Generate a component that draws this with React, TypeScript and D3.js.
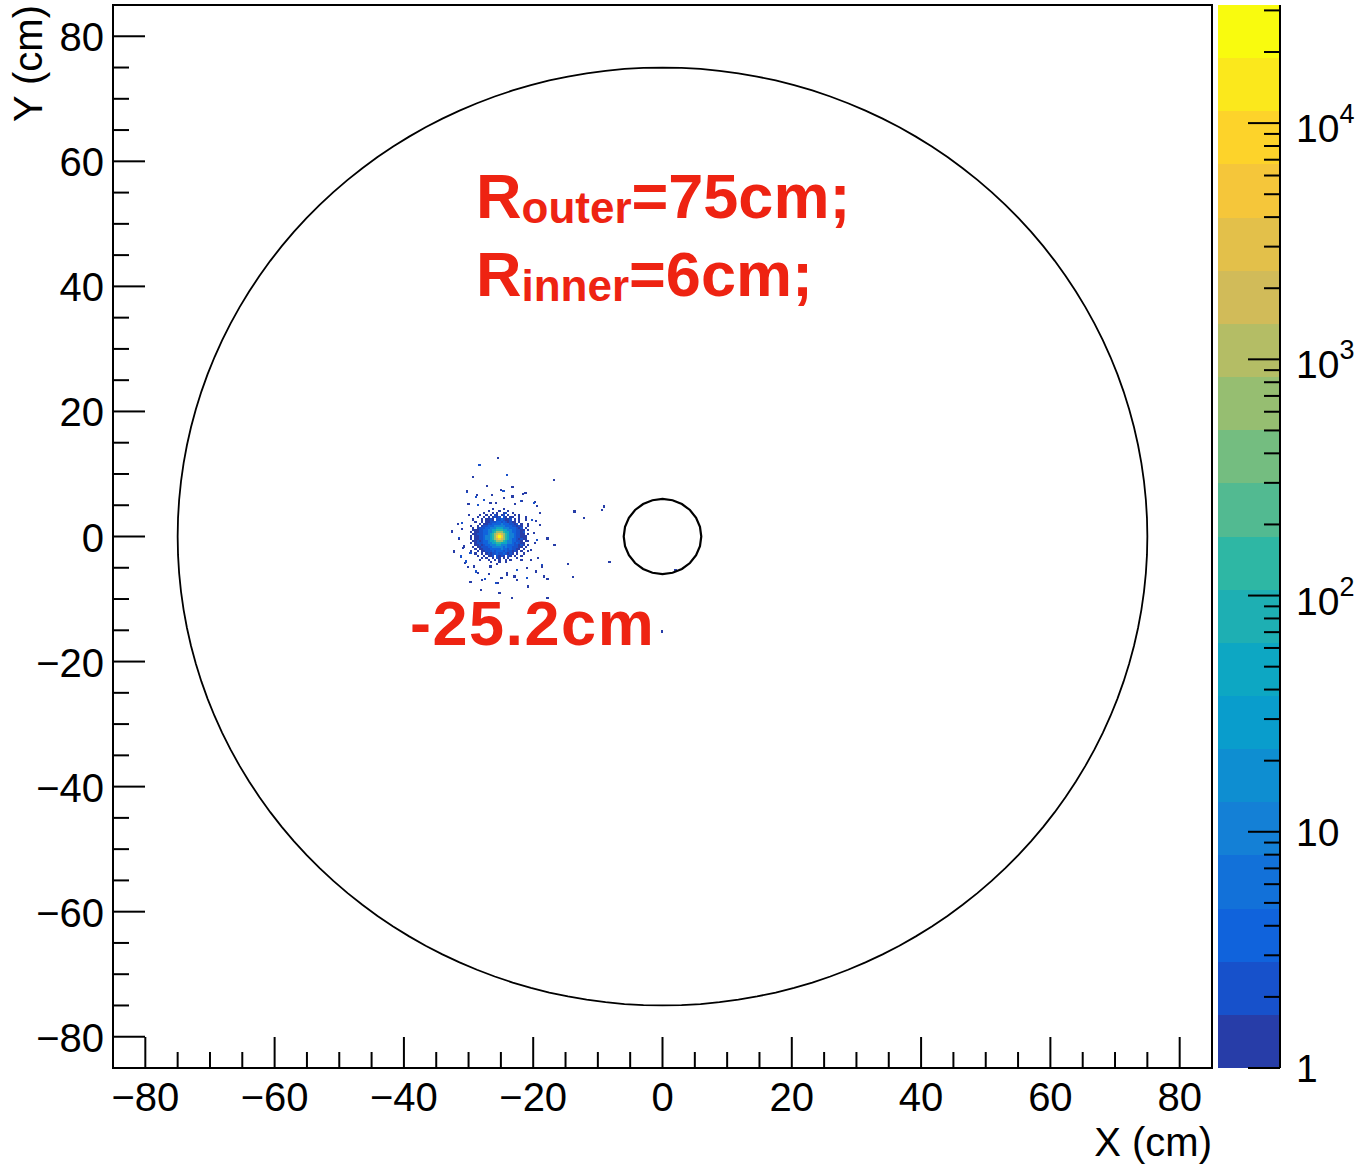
import React from 'react';
import * as d3 from 'd3';

const W = 1359;
const H = 1169;
const FONT = '"Liberation Sans", Arial, Helvetica, sans-serif';
const RED = '#ee2312';

// frame in pixels
const frame = { left: 113, right: 1212, top: 5, bottom: 1068 };
const bar = { left: 1218, right: 1280 };

// axes
const xDomain = [-85, 85];
const yDomain = [-85, 85];
const xMajorTicks = [-80, -60, -40, -20, 0, 20, 40, 60, 80];
const yMajorTicks = [-80, -60, -40, -20, 0, 20, 40, 60, 80];
const minorStep = 5;

// z (colour) axis, log scale, 20 contours
const zMin = 1;
const zMax = 31623;
const nContours = 20;
const zTickValues = [1, 10, 100, 1000, 10000];
const zTickBase = ['1', '10', '10', '10', '10'];
const zTickExp = ['', '', '2', '3', '4'];

// detector geometry (cm)
const outerRadius = 75;
const innerRadius = 6;

// histogram binning (500 bins over 170 cm)
const binWidth = 0.34;
const spotCenter = [-25.2, 0];

// core of the beam spot, one char per bin: '.' empty, '1'..'A' -> levelCounts
const levelChars = '123456789A';
const levelCounts = [1, 2, 4, 12, 40, 150, 500, 1500, 5000, 25000];
const coreRows = [
  '..........1....1...........',
  '........1....1...1.........',
  '......1...1.1..12..1.......',
  '....1..1.1.21.12.1..1.1....',
  '...1..1.1.1212.21.11..1..1.',
  '.1...1.1121.2232112.1.1..1.',
  '..1..1.11222332321211.1....',
  '....1.1122333343332212.1..1',
  '1..1.1223334444433322121..1',
  '.1.122233444555444333212.1.',
  '.111223344556665544332211.1',
  '1.11223344567776554332212..',
  '.112223345678987654432211.1',
  '1.11223445679A976544322111.',
  '1.112234456789876543321211.',
  '.11212334556777654433221.11',
  '1.12223344556655544323211..',
  '..11212334445544433322121.1',
  '.1.112223344444343322211.1.',
  '..1.1122233333433232211.1..',
  '1..1.11222323332322121.1..1',
  '..1..1.1212232232121.1..1..',
  '...1..1.112.2121.21.1..1...',
  '.....1.1..1.21.1.1...1.....',
  '....1...1..1.1..1.1....1...',
  '.........1...1..1..........',
  '............1..............',
];

// scattered single hits around the spot: [x cm, y cm, counts]
const haloHits = [
  [-25.5, 12.5, 1], [-28.3, 11.5, 2], [-24.0, 9.8, 2], [-29.3, 9.5, 1], [-30.3, 7.2, 2],
  [-16.8, 9.1, 1], [-9.1, 4.8, 1], [-13.6, 4.0, 1], [-12.1, 2.9, 1], [-9.4, 4.3, 1],
  [-31.5, -0.2, 2], [-16.7, -1.3, 1], [-14.6, -4.4, 1], [-8.2, -4.1, 1], [-13.8, -6.5, 1],
  [-17.8, -6.8, 1], [-31.2, -3.2, 2], [-30.6, -4.3, 1], [-29.7, -7.3, 1], [-28.1, -8.5, 1],
  [-25.8, -7.4, 2], [-25.2, -9.1, 1], [-23.3, -9.9, 1], [-20.8, -8.0, 1], [-18.6, -4.5, 2],
  [-19.7, -1.1, 1], [-19.7, 5.5, 1], [-21.9, 5.7, 2], [-23.2, 7.9, 1], [-25.0, 7.5, 1],
  [-27.1, 8.1, 1], [-27.6, 5.9, 2], [-18.9, 3.8, 1], [-17.8, -0.2, 1], [-20.4, -3.7, 1],
  [-22.5, -5.3, 2], [-24.0, -5.8, 1], [-26.6, -4.8, 1], [-0.05, -15.2, 1], [-17.8, -9.8, 1],
  [2.0, -5.4, 1], [-9.0, 4.8, 1], [-31.0, 1.2, 1], [-30.8, -1.8, 1], [-31.6, 2.0, 1],
  [-30.0, 5.2, 1], [-28.8, 6.3, 2], [-26.4, 6.6, 1], [-24.5, 6.1, 1], [-22.8, 5.2, 1],
  [-20.2, 2.6, 2], [-19.9, 0.6, 1], [-20.3, -2.1, 1], [-21.0, -5.0, 1], [-22.9, -6.4, 1],
  [-26.9, -6.0, 1], [-28.9, -5.6, 2], [-30.1, -4.9, 1], [-32.2, -2.4, 1], [-19.3, -3.4, 1],
  [-21.6, 6.8, 1], [-25.8, 5.4, 1], [-32.5, 0.8, 1], [-18.9, 1.9, 1], [-27.9, -6.9, 1],
  [-24.9, -6.6, 1], [-19.4, 4.9, 1],
  [-30.3, 7.3, 1], [-28.7, 6.6, 1], [-24.6, 7.3, 2], [-23.2, 6.4, 1], [-21.7, 5.7, 1],
  [-19.9, 5.4, 2], [-19.6, 2.5, 1], [-17.8, -0.4, 1], [-19.4, -0.5, 2], [-18.6, -4.8, 1],
  [-19.6, -5.6, 1], [-20.9, -6.6, 2], [-22.5, -6.9, 1], [-25.5, -7.4, 1], [-27.4, -6.8, 2],
  [-29.2, -4.8, 1], [-30.4, -4.0, 2], [-31.5, -0.4, 1], [-31.0, 2.2, 2], [-29.9, 3.5, 1],
  [-28.6, 5.1, 2], [-26.6, 5.4, 1], [-21.2, 6.9, 1], [-18.3, -6.4, 1], [-30.7, -1.6, 1],
  [-29.7, -2.6, 2], [-24.0, -6.1, 1], [-28.6, -5.8, 1],
];

// ROOT kBird palette
const birdStops = [0.0, 0.125, 0.25, 0.375, 0.5, 0.625, 0.75, 0.875, 1.0];
const birdRed = [0.2082, 0.0592, 0.078, 0.0232, 0.1802, 0.5301, 0.8186, 0.9956, 0.9764];
const birdGreen = [0.1664, 0.3599, 0.5041, 0.6419, 0.7178, 0.7492, 0.7328, 0.7862, 0.9832];
const birdBlue = [0.5293, 0.8684, 0.8385, 0.7914, 0.6425, 0.4662, 0.3499, 0.1968, 0.0539];

const birdColor = (t: number) => {
  const s = d3.scaleLinear().domain(birdStops).clamp(true);
  const r = s.copy().range(birdRed)(t);
  const g = s.copy().range(birdGreen)(t);
  const b = s.copy().range(birdBlue)(t);
  return d3.rgb(r * 255, g * 255, b * 255).formatHex();
};

const lzMax = Math.log10(zMax);
const bandColor = (i: number) => birdColor(Math.floor((i + 0.99) * 255 / nContours) / 254);
const countColor = (v: number) => {
  const band = Math.min(nContours - 1, Math.floor(0.01 + (Math.log10(v) - Math.log10(zMin)) * nContours / lzMax));
  return bandColor(band);
};

export default function App() {
  const x = d3.scaleLinear().domain(xDomain).range([frame.left, frame.right]);
  const y = d3.scaleLinear().domain(yDomain).range([frame.bottom, frame.top]);
  const z = d3.scaleLog().domain([zMin, zMax]).range([frame.bottom, frame.top]);

  const xMinor = d3.range(xDomain[0], xDomain[1] + 0.01, minorStep).filter(v => !xMajorTicks.includes(v) && v > xDomain[0] && v < xDomain[1]);
  const yMinor = d3.range(yDomain[0], yDomain[1] + 0.01, minorStep).filter(v => !yMajorTicks.includes(v) && v > yDomain[0] && v < yDomain[1]);

  const zMinor: number[] = [];
  for (let d = 0; d <= 4; d++) {
    for (let k = 2; k <= 9; k++) {
      const v = k * Math.pow(10, d);
      if (v < zMax) zMinor.push(v);
    }
  }

  const circlePath = (r: number, n: number) =>
    d3.line<number>()
      .x(a => x(r * Math.cos(a)))
      .y(a => y(r * Math.sin(a)))(d3.range(n + 1).map(i => (i / n) * 2 * Math.PI)) + 'Z';

  // histogram cells
  const cells: { x0: number; y0: number; v: number }[] = [];
  const half = (coreRows.length - 1) / 2;
  coreRows.forEach((row, r) => {
    row.split('').forEach((ch, c) => {
      const li = levelChars.indexOf(ch);
      if (li < 0) return;
      cells.push({
        x0: spotCenter[0] + (c - half - 0.5) * binWidth,
        y0: spotCenter[1] + (half - r + 0.5) * binWidth,
        v: levelCounts[li],
      });
    });
  });
  haloHits.forEach(([hx, hy, v]) => {
    cells.push({ x0: hx - binWidth / 2, y0: hy + binWidth / 2, v });
  });

  const fmt = (v: number) => (v < 0 ? '\u2212' + Math.abs(v) : String(v));
  const bandEdges = d3.range(nContours + 1).map(i => Math.pow(10, (i * lzMax) / nContours));

  return (
    <div style={{ position: 'absolute', left: 0, top: 0 }}>
      <svg width={W} height={H} style={{ display: 'block', background: '#fff' }} fontFamily={FONT}>
        <rect width={W} height={H} fill="#fff" />

        {/* histogram */}
        <g shapeRendering="crispEdges">
          {cells.map((c, i) => (
            <rect
              key={i}
              x={x(c.x0)}
              y={y(c.y0)}
              width={x(c.x0 + binWidth) - x(c.x0)}
              height={y(c.y0 - binWidth) - y(c.y0)}
              fill={countColor(c.v)}
            />
          ))}
        </g>

        {/* detector outlines */}
        <path d={circlePath(outerRadius, 160)} fill="none" stroke="#000" strokeWidth={1.8} />
        <path d={circlePath(innerRadius, 24)} fill="none" stroke="#000" strokeWidth={2.2} />

        {/* frame */}
        <rect x={frame.left} y={frame.top} width={frame.right - frame.left} height={frame.bottom - frame.top}
          fill="none" stroke="#000" strokeWidth={2} />

        {/* x ticks */}
        <g stroke="#000" strokeWidth={2}>
          {xMajorTicks.map(v => <line key={'xM' + v} x1={x(v)} x2={x(v)} y1={frame.bottom} y2={frame.bottom - 31} />)}
          {xMinor.map(v => <line key={'xm' + v} x1={x(v)} x2={x(v)} y1={frame.bottom} y2={frame.bottom - 16} />)}
          {yMajorTicks.map(v => <line key={'yM' + v} y1={y(v)} y2={y(v)} x1={frame.left} x2={frame.left + 32} />)}
          {yMinor.map(v => <line key={'ym' + v} y1={y(v)} y2={y(v)} x1={frame.left} x2={frame.left + 16} />)}
        </g>
        <g fontSize={40} fill="#000">
          {xMajorTicks.map(v => (
            <text key={'xl' + v} x={x(v)} y={1111} textAnchor="middle">{fmt(v)}</text>
          ))}
          {yMajorTicks.map(v => (
            <text key={'yl' + v} x={104} y={y(v) + 15} textAnchor="end">{fmt(v)}</text>
          ))}
        </g>

        {/* axis titles */}
        <text x={1212} y={1156} textAnchor="end" fontSize={40}>X (cm)</text>
        <text transform="translate(42,5) rotate(-90)" textAnchor="end" fontSize={40}>Y (cm)</text>

        {/* colour bar */}
        <g shapeRendering="crispEdges">
          {d3.range(nContours).map(i => (
            <rect key={'b' + i} x={bar.left} width={bar.right - bar.left}
              y={z(bandEdges[i + 1])} height={z(bandEdges[i]) - z(bandEdges[i + 1])} fill={bandColor(i)} />
          ))}
        </g>
        <line x1={bar.right} x2={bar.right} y1={frame.top} y2={frame.bottom} stroke="#000" strokeWidth={2} />
        <g stroke="#000" strokeWidth={2}>
          {zTickValues.map(v => <line key={'zM' + v} x1={bar.right} x2={bar.right - 32} y1={z(v)} y2={z(v)} />)}
          {zMinor.map(v => <line key={'zm' + v} x1={bar.right} x2={bar.right - 16} y1={z(v)} y2={z(v)} />)}
        </g>
        <g fontSize={39} fill="#000">
          {zTickValues.map((v, i) => (
            <text key={'zl' + v} x={1296} y={z(v) + (zTickExp[i] ? 19 : 14)}>
              {zTickBase[i]}
              {zTickExp[i] && <tspan fontSize={27} dy={-19}>{zTickExp[i]}</tspan>}
            </text>
          ))}
        </g>

        {/* annotations */}
        <g fill={RED} fontWeight="bold" fontSize={63}>
          <text x={476} y={218}>
            R<tspan fontSize={44} dy={5}>outer</tspan><tspan dy={-5}>=75cm;</tspan>
          </text>
          <text x={476} y={296}>
            R<tspan fontSize={44} dy={5}>inner</tspan><tspan dy={-5}>=6cm;</tspan>
          </text>
          <text x={410} y={645} letterSpacing={1.5}>-25.2cm</text>
        </g>
      </svg>
    </div>
  );
}
